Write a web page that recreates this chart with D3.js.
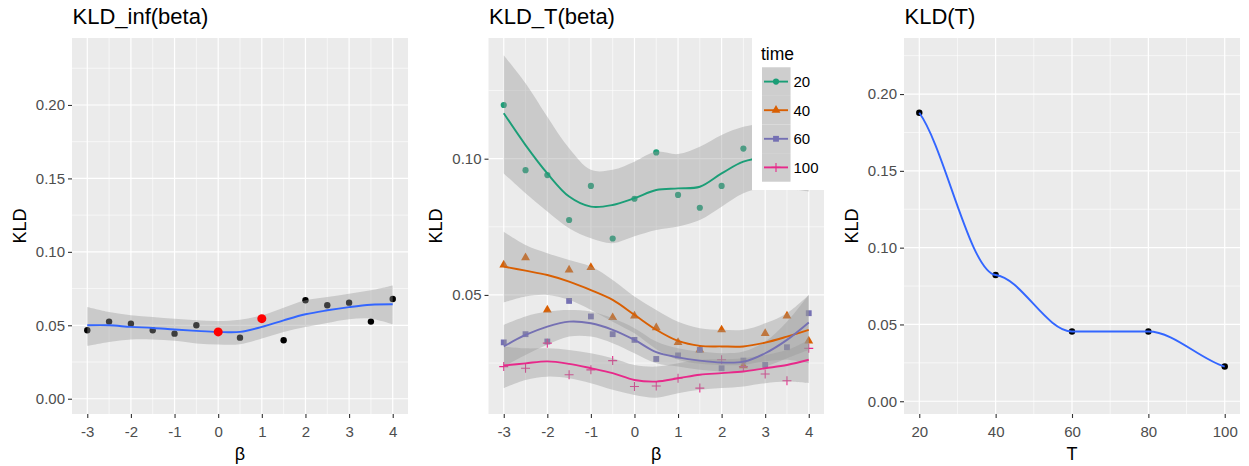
<!DOCTYPE html>
<html><head><meta charset="utf-8">
<script src="https://cdn.jsdelivr.net/npm/d3@7"></script>
<style>
body{margin:0;background:#fff;}
svg{display:block;font-family:"Liberation Sans",Arial,sans-serif;}
</style></head>
<body><svg id="c" width="1249" height="466"></svg>
<script>
// ---------- DATA ----------
const beta = [-3,-2.5,-2,-1.5,-1,-0.5,0,0.5,1,1.5,2,2.5,3,3.5,4];

// Panel 1: KLD_inf(beta)
const infPoints = [0.0466,0.0525,0.0511,0.0466,0.0443,0.0500,0.0455,0.0416,0.0545,0.0398,0.0670,0.0636,0.0654,0.0525,0.0679];
const infFit    = [0.0500,0.0500,0.0489,0.0482,0.0471,0.0462,0.0455,0.0455,0.0489,0.0534,0.0575,0.0602,0.0624,0.0640,0.0643];
const infLower  = [0.0360,0.0387,0.0403,0.0403,0.0394,0.0376,0.0369,0.0371,0.0410,0.0455,0.0489,0.0516,0.0541,0.0545,0.0507];
const infUpper  = [0.0624,0.0590,0.0568,0.0557,0.0545,0.0534,0.0529,0.0538,0.0568,0.0620,0.0670,0.0692,0.0715,0.0738,0.0771];
const highlightBeta = [0, 1];
const highlightKLD  = [0.0455, 0.0545];

// Panel 2: KLD_T(beta), by time
const times = ["20","40","60","100"];
const kld20 = [0.1197,0.0958,0.0940,0.0775,0.0900,0.0707,0.0853,0.1023,0.0867,0.0820,0.0900,0.1037,0.0960,0.1080,0.0980];
const fit20 = [0.1167,0.1050,0.0946,0.0861,0.0824,0.0830,0.0855,0.0885,0.0891,0.0897,0.0946,0.0989,0.1005,0.1005,0.0990];
const lo20  = [0.0946,0.0873,0.0806,0.0745,0.0708,0.0690,0.0715,0.0738,0.0751,0.0775,0.0824,0.0873,0.0895,0.0890,0.0880];
const hi20  = [0.1380,0.1277,0.1154,0.1038,0.0959,0.0959,0.0989,0.1026,0.1017,0.1044,0.1087,0.1117,0.1130,0.1130,0.1120];

const kld40 = [0.0610,0.0637,0.0445,0.0592,0.0601,0.0417,0.0423,0.0380,0.0326,0.0298,0.0372,0.0240,0.0359,0.0423,0.0331];
const fit40 = [0.0604,0.0589,0.0573,0.0549,0.0518,0.0482,0.0427,0.0372,0.0331,0.0313,0.0311,0.0311,0.0325,0.0347,0.0372];
const lo40  = [0.0472,0.0494,0.0500,0.0482,0.0445,0.0402,0.0359,0.0301,0.0262,0.0247,0.0243,0.0243,0.0256,0.0262,0.0249];
const hi40  = [0.0732,0.0683,0.0653,0.0628,0.0604,0.0555,0.0494,0.0445,0.0402,0.0378,0.0372,0.0372,0.0396,0.0433,0.0500];

const kld60 = [0.0326,0.0356,0.0329,0.0478,0.0421,0.0356,0.0335,0.0265,0.0278,0.0298,0.0231,0.0259,0.0243,0.0308,0.0433];
const fit60 = [0.0311,0.0353,0.0384,0.0402,0.0396,0.0372,0.0335,0.0290,0.0271,0.0259,0.0252,0.0255,0.0286,0.0335,0.0399];
const lo60  = [0.0237,0.0280,0.0317,0.0347,0.0347,0.0323,0.0286,0.0249,0.0237,0.0225,0.0219,0.0219,0.0237,0.0268,0.0298];
const hi60  = [0.0390,0.0421,0.0439,0.0445,0.0439,0.0414,0.0378,0.0329,0.0304,0.0292,0.0286,0.0292,0.0329,0.0402,0.0500];

const kld100 = [0.0237,0.0231,0.0323,0.0207,0.0225,0.0259,0.0164,0.0166,0.0194,0.0158,0.0262,0.0237,0.0210,0.0185,0.0304];
const fit100 = [0.0241,0.0249,0.0256,0.0247,0.0231,0.0213,0.0188,0.0182,0.0194,0.0207,0.0213,0.0219,0.0231,0.0243,0.0262];
const lo100  = [0.0158,0.0188,0.0200,0.0194,0.0176,0.0152,0.0133,0.0123,0.0139,0.0152,0.0158,0.0164,0.0176,0.0182,0.0176];
const hi100  = [0.0311,0.0304,0.0304,0.0298,0.0286,0.0268,0.0243,0.0237,0.0249,0.0262,0.0264,0.0268,0.0280,0.0298,0.0335];

// Panel 3: KLD(T)
const Tvals = [20,40,60,80,100];
const kldT  = [0.1878,0.0822,0.0454,0.0454,0.0226];

// tick labels
const betaTicks = [-3,-2,-1,0,1,2,3,4];
const betaMinor = [-2.5,-1.5,-0.5,0.5,1.5,2.5,3.5];
const kldTicksFull = [0,0.05,0.10,0.15,0.20];
const kldMinorFull = [0.025,0.075,0.125,0.175,0.225];
const kldTicksT = [0.05,0.10];
const kldMinorT = [0.025,0.075,0.125];
const Tticks = [20,40,60,80,100];
const Tminor = [30,50,70,90];

// ---------- DRAW ----------
const svg = d3.select("#c");
const PB = "#EBEBEB", BAND = "#999999", BANDOP = 0.4, BLUE = "#3366FF";
const colors = {"20":"#1B9E77","40":"#D95F02","60":"#7570B3","100":"#E7298A"};
const shapes = {"20":"circle","40":"triangle","60":"square","100":"plus"};

function panel(o){
  const g = svg.append("g");
  const x = d3.scaleLinear().domain(o.xd).range([o.x0,o.x1]);
  const y = d3.scaleLinear().domain(o.yd).range([o.y1,o.y0]);
  g.append("rect").attr("x",o.x0).attr("y",o.y0).attr("width",o.x1-o.x0).attr("height",o.y1-o.y0).attr("fill",PB);
  const grid = g.append("g");
  o.yMinor.forEach(v=>grid.append("line").attr("x1",o.x0).attr("x2",o.x1).attr("y1",y(v)).attr("y2",y(v)).attr("stroke","#fff").attr("stroke-width",0.6));
  o.xMinor.forEach(v=>grid.append("line").attr("y1",o.y0).attr("y2",o.y1).attr("x1",x(v)).attr("x2",x(v)).attr("stroke","#fff").attr("stroke-width",0.6));
  o.yTicks.forEach(v=>grid.append("line").attr("x1",o.x0).attr("x2",o.x1).attr("y1",y(v)).attr("y2",y(v)).attr("stroke","#fff").attr("stroke-width",1.2));
  o.xTicks.forEach(v=>grid.append("line").attr("y1",o.y0).attr("y2",o.y1).attr("x1",x(v)).attr("x2",x(v)).attr("stroke","#fff").attr("stroke-width",1.2));
  // axes
  const ax = g.append("g").attr("transform",`translate(0,${o.y1})`)
    .call(d3.axisBottom(x).tickValues(o.xTicks).tickSize(4).tickPadding(5).tickFormat(o.xFmt||(d=>String(d).replace("\u2212","-"))));
  const ay = g.append("g").attr("transform",`translate(${o.x0},0)`)
    .call(d3.axisLeft(y).tickValues(o.yTicks).tickSize(4).tickPadding(3).tickFormat(d3.format(".2f")));
  [ax,ay].forEach(a=>{
    a.select(".domain").remove();
    a.selectAll(".tick line").attr("stroke","#333333").attr("stroke-width",1.1);
    a.selectAll(".tick text").attr("fill","#4D4D4D").style("font-size","15px").style("font-family","'Liberation Sans',Arial,sans-serif");
  });
  ax.selectAll(".tick text").attr("dy","0.95em");
  // titles
  svg.append("text").attr("x",o.x0+0.5).attr("y",23.5).text(o.title).style("font-size","22px").attr("fill","#000");
  svg.append("text").attr("x",(o.x0+o.x1)/2).attr("y",460).attr("text-anchor","middle").text(o.xlab).style("font-size","18px");
  svg.append("text").attr("transform",`translate(${o.ylabX},${(o.y0+o.y1)/2}) rotate(-90)`).attr("text-anchor","middle").text("KLD").style("font-size","18px");
  const clip = "clip"+o.id;
  svg.append("clipPath").attr("id",clip).append("rect").attr("x",o.x0).attr("y",o.y0).attr("width",o.x1-o.x0).attr("height",o.y1-o.y0);
  const inner = svg.append("g").attr("clip-path",`url(#${clip})`);
  return {x,y,g:inner};
}

function symbolPath(shape){
  if(shape==="plus") return "M-4.5,0H4.5M0,-4.5V4.5";
  if(shape==="circle") return d3.symbol(d3.symbolCircle,30)();
  if(shape==="triangle") return d3.symbol(d3.symbolTriangle,34)();
  return d3.symbol(d3.symbolSquare,34)();
}
function drawSym(g,shape,color,cx,cy){
  const p = g.append("path").attr("d",symbolPath(shape)).attr("transform",`translate(${cx},${cy})`);
  if(shape==="plus") p.attr("fill","none").attr("stroke",color).attr("stroke-width",1.1);
  else p.attr("fill",color);
  return p;
}

const curve = d3.curveCatmullRom.alpha(0.5);

// Hermite curve with damped interior tangents (flat shoulders at knots)
function curveDampedHermite(context){
  let pts = [];
  return {
    lineStart(){ pts = []; },
    point(x,y){ pts.push([+x,+y]); },
    lineEnd(){
      const n = pts.length; if(!n) return;
      const s = [];
      for(let i=0;i<n-1;i++) s.push((pts[i+1][1]-pts[i][1])/(pts[i+1][0]-pts[i][0]));
      const m = new Array(n).fill(0);
      for(let i=1;i<n-1;i++){
        if(s[i-1]*s[i] <= 0) m[i]=0;
        else m[i] = 0.15*Math.sign(s[i])*Math.min(Math.abs(s[i-1]),Math.abs(s[i]));
      }
      m[0] = 0.65*s[0]; m[n-1] = 0.65*s[n-2];
      context.moveTo(pts[0][0],pts[0][1]);
      for(let i=0;i<n-1;i++){
        const h = (pts[i+1][0]-pts[i][0])/3;
        context.bezierCurveTo(pts[i][0]+h, pts[i][1]+m[i]*h, pts[i+1][0]-h, pts[i+1][1]-m[i+1]*h, pts[i+1][0], pts[i+1][1]);
      }
    },
    areaStart(){}, areaEnd(){}
  };
}

// Panel 1
{
  const P = panel({id:1,x0:72,x1:408,y0:38,y1:414,xd:[-3.35,4.35],yd:[-0.0104,0.2456],
    xTicks:betaTicks,xMinor:betaMinor,yTicks:kldTicksFull,yMinor:kldMinorFull,
    title:"KLD_inf(beta)",xlab:"\u03b2",ylabX:26});
  const {x,y,g} = P;
  beta.forEach((b,i)=>g.append("circle").attr("cx",x(b)).attr("cy",y(infPoints[i])).attr("r",3.2).attr("fill","#000"));
  const area = d3.area().x((d,i)=>x(beta[i])).y0((d,i)=>y(infLower[i])).y1((d,i)=>y(infUpper[i])).curve(curve);
  g.append("path").datum(beta).attr("d",area).attr("fill",BAND).attr("opacity",BANDOP);
  const line = d3.line().x((d,i)=>x(beta[i])).y(d=>y(d)).curve(curve);
  g.append("path").datum(infFit).attr("d",line).attr("fill","none").attr("stroke",BLUE).attr("stroke-width",1.9);
  highlightBeta.forEach((b,i)=>g.append("circle").attr("cx",x(b)).attr("cy",y(highlightKLD[i])).attr("r",4.5).attr("fill","#FF0000"));
}

// Panel 2
{
  const P = panel({id:2,x0:488.5,x1:824,y0:38,y1:414,xd:[-3.35,4.35],yd:[0.0063,0.1443],
    xTicks:betaTicks,xMinor:betaMinor,yTicks:kldTicksT,yMinor:kldMinorT,
    title:"KLD_T(beta)",xlab:"\u03b2",ylabX:442});
  const {x,y,g} = P;
  const series = [
    {t:"20",pts:kld20,fit:fit20,lo:lo20,hi:hi20},
    {t:"40",pts:kld40,fit:fit40,lo:lo40,hi:hi40},
    {t:"60",pts:kld60,fit:fit60,lo:lo60,hi:hi60},
    {t:"100",pts:kld100,fit:fit100,lo:lo100,hi:hi100}];
  series.forEach(s=>beta.forEach((b,i)=>drawSym(g,shapes[s.t],colors[s.t],x(b),y(s.pts[i]))));
  series.forEach(s=>{
    const area = d3.area().x((d,i)=>x(beta[i])).y0((d,i)=>y(s.lo[i])).y1((d,i)=>y(s.hi[i])).curve(curve);
    g.append("path").datum(beta).attr("d",area).attr("fill",BAND).attr("opacity",BANDOP);
  });
  series.forEach(s=>{
    const line = d3.line().x((d,i)=>x(beta[i])).y(d=>y(d)).curve(curve);
    g.append("path").datum(s.fit).attr("d",line).attr("fill","none").attr("stroke",colors[s.t]).attr("stroke-width",1.9);
  });
  // legend
  const L = svg.append("g");
  L.append("rect").attr("x",752).attr("y",38).attr("width",72).attr("height",152).attr("fill","#fff");
  L.append("text").attr("x",761).attr("y",60).text("time").style("font-size","17.5px");
  const kh = 28.6, ky0 = 67.3;
  times.forEach((t,i)=>{
    const yy = ky0 + i*kh;
    L.append("rect").attr("x",762).attr("y",yy).attr("width",28.5).attr("height",kh).attr("fill","#F2F2F2");
    L.append("rect").attr("x",762).attr("y",yy).attr("width",28.5).attr("height",kh).attr("fill",BAND).attr("opacity",BANDOP);
    const cy = yy + kh/2;
    L.append("line").attr("x1",764).attr("x2",788).attr("y1",cy).attr("y2",cy).attr("stroke",colors[t]).attr("stroke-width",1.9);
    drawSym(L,shapes[t],colors[t],776,cy);
    L.append("text").attr("x",793.5).attr("y",cy+5.5).text(t).style("font-size","15px");
  });
}

// Panel 3
{
  const P = panel({id:3,x0:904,x1:1240,y0:38,y1:414,xd:[16,104],yd:[-0.0083,0.2365],
    xTicks:Tticks,xMinor:Tminor,yTicks:kldTicksFull,yMinor:kldMinorFull,
    title:"KLD(T)",xlab:"T",ylabX:858,xFmt:d3.format("d")});
  const {x,y,g} = P;
  Tvals.forEach((t,i)=>g.append("circle").attr("cx",x(t)).attr("cy",y(kldT[i])).attr("r",3.2).attr("fill","#000"));
  const line = d3.line().x((d,i)=>x(Tvals[i])).y(d=>y(d)).curve(curveDampedHermite);
  g.append("path").datum(kldT).attr("d",line).attr("fill","none").attr("stroke",BLUE).attr("stroke-width",1.9);
}
</script></body></html>
